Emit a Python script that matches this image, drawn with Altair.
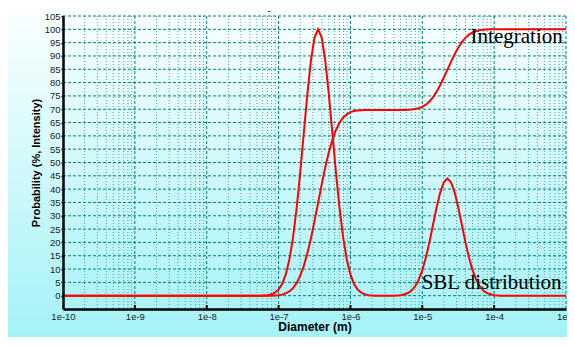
import altair as alt
import pandas as pd

# ---- data (x as log10 of diameter in m) ----
log_diameter = [
    -10.0,
    -7.30, -7.25, -7.20, -7.15, -7.10, -7.05, -7.00, -6.95, -6.90, -6.85,
    -6.80, -6.75, -6.70, -6.65, -6.60, -6.55, -6.50, -6.45, -6.40, -6.35,
    -6.30, -6.25, -6.20, -6.15, -6.10, -6.05, -6.00, -5.95, -5.90, -5.85,
    -5.80, -5.75, -5.70, -5.65, -5.60,
    -5.45, -5.40, -5.35, -5.30, -5.25, -5.20, -5.15, -5.10, -5.05, -5.00,
    -4.95, -4.90, -4.85, -4.80, -4.75, -4.70, -4.65, -4.60, -4.55, -4.50,
    -4.45, -4.40, -4.35, -4.30, -4.25, -4.20, -4.15, -4.10, -4.05, -4.00,
    -3.95, -3.90, -3.85,
    -3.0,
]
sbl_distribution = [
    0.0,
    0.0, 0.0, 0.1, 0.2, 0.5, 1.1, 2.3, 4.4, 8.0, 13.5,
    21.6, 32.5, 45.8, 60.7, 75.5, 88.2, 96.9, 100.0, 96.9, 88.2,
    75.5, 60.7, 45.8, 32.5, 21.6, 13.5, 8.0, 4.4, 2.3, 1.1,
    0.5, 0.2, 0.1, 0.0, 0.0,
    0.0, 0.0, 0.1, 0.2, 0.5, 1.0, 1.9, 3.5, 6.0, 9.5,
    14.3, 20.1, 26.7, 33.2, 38.8, 42.6, 44.0, 42.6, 38.8, 33.2,
    26.7, 20.1, 14.3, 9.5, 6.0, 3.5, 1.9, 1.0, 0.5, 0.2,
    0.1, 0.0, 0.0,
    0.0,
]
integration = [
    0.0,
    0.0, 0.0, 0.0, 0.0, 0.0, 0.1, 0.2, 0.4, 0.9, 1.6,
    2.8, 4.7, 7.4, 11.1, 15.8, 21.5, 28.0, 34.9, 41.7, 48.2,
    53.9, 58.6, 62.3, 65.0, 66.9, 68.1, 68.9, 69.3, 69.5, 69.6,
    69.7, 69.7, 69.7, 69.7, 69.7,
    69.7, 69.7, 69.7, 69.7, 69.7, 69.8, 69.9, 70.1, 70.4, 70.9,
    71.7, 72.9, 74.5, 76.6, 79.1, 81.9, 84.9, 87.8, 90.7, 93.1,
    95.2, 96.8, 98.0, 98.8, 99.3, 99.6, 99.8, 99.9, 100.0, 100.0,
    100.0, 100.0, 100.0,
    100.0,
]

x_ticks = [1e-10, 1e-9, 1e-8, 1e-7, 1e-6, 1e-5, 1e-4, 1e-3]
y_ticks = [0, 5, 10, 15, 20, 25, 30, 35, 40, 45, 50, 55, 60, 65, 70, 75,
           80, 85, 90, 95, 100, 105]
minor_steps = [2, 3, 4, 5, 6, 7, 8, 9]

label_text = ["Integration", "SBL distribution"]
label_x = [4.7e-5, 9.8e-6]
label_y = [94.7, 2.5]

# ---- tables ----
diam = [10 ** v for v in log_diameter]
n = len(diam)
df = pd.DataFrame({
    "Diameter": diam + diam,
    "value": sbl_distribution + integration,
    "series": ["SBL distribution"] * n + ["Integration"] * n,
})
major_df = pd.DataFrame({"Diameter": x_ticks[1:]})
minor_df = pd.DataFrame({"Diameter": [k * d for d in x_ticks[:-1] for k in minor_steps]})
hgrid_df = pd.DataFrame({"value": y_ticks})
tick_df = pd.DataFrame({"Diameter": x_ticks[1:-1]})
lab_df = pd.DataFrame({"t": label_text, "Diameter": label_x, "value": label_y})

xscale = alt.Scale(type="log", domain=[1e-10, 1e-3], nice=False)
yscale = alt.Scale(domain=[-5, 105], nice=False, zero=False)
W, H = 503, 293

X_AXIS = alt.Axis(values=x_ticks, format=".0e", title="Diameter (m)",
                  labelFont="Liberation Sans", labelFontSize=9.5, labelColor="#222222",
                  labelFlush=False, labelPadding=2, tickSize=0,
                  domainColor="black", domainWidth=2.5, grid=False,
                  titleFont="Liberation Sans", titleFontSize=12, titleFontWeight="bold",
                  titleColor="black", titlePadding=1, zindex=2)
Y_AXIS = alt.Axis(values=y_ticks, title="Probability (%, Intensity)",
                  labelFont="Liberation Sans", labelFontSize=9.5, labelColor="#222222",
                  labelPadding=1, tickSize=2, tickColor="black", tickWidth=1.5,
                  domainColor="black", domainWidth=2.5, grid=False,
                  titleFont="Liberation Sans", titleFontSize=11, titleFontWeight="bold",
                  titleColor="black", titlePadding=3, zindex=2)


def X(field="Diameter:Q"):
    return alt.X(field, scale=xscale, axis=X_AXIS)


def Y(field="value:Q"):
    return alt.Y(field, scale=yscale, axis=Y_AXIS)


bg = alt.Chart(pd.DataFrame({"a": [0]})).mark_rect(
    fill=alt.Gradient(
        gradient="linear",
        stops=[alt.GradientStop(color="#fbffff", offset=0),
               alt.GradientStop(color="#a4f2f6", offset=1)],
        x1=0, x2=0, y1=0, y2=1,
    )
).encode(x=alt.value(-55), x2=alt.value(W + 1), y=alt.value(-8), y2=alt.value(H + 28))

hgrid = alt.Chart(hgrid_df).mark_rule(color="#007f7f", strokeDash=[3, 2], strokeWidth=1).encode(y=Y())
vminor = alt.Chart(minor_df).mark_rule(color="#40aaaa", strokeDash=[1, 2], strokeWidth=1).encode(x=X())
vmajor = alt.Chart(major_df).mark_rule(color="#007f7f", strokeDash=[3, 2], strokeWidth=1).encode(x=X())
xticks_in = alt.Chart(tick_df).mark_rule(color="black", strokeWidth=2).encode(
    x=X(), y=alt.value(H), y2=alt.value(H - 4)
)

lines = alt.Chart(df).mark_line(color="#ff0000", strokeWidth=2).encode(
    x=X(), y=Y(), detail="series:N"
)

labels = alt.Chart(lab_df).mark_text(
    font="Liberation Serif", fontSize=21, align="left", baseline="alphabetic", color="black"
).encode(x=X(), y=Y(), text="t:N")

dash = alt.Chart(pd.DataFrame({"t": ["-"]})).mark_text(
    fontSize=10, color="#0000ff", align="center", baseline="middle"
).encode(x=alt.value(206), y=alt.value(-5), text="t:N")

chart = alt.layer(bg, vminor, vmajor, hgrid, lines, xticks_in, labels, dash).properties(
    width=W, height=H,
    autosize=alt.AutoSizeParams(type="none"),
    padding={"left": 55, "top": 8, "right": 1, "bottom": 28},
).configure_view(stroke=None)

chart.save("out.html", embed_options={"renderer": "svg", "actions": False})
